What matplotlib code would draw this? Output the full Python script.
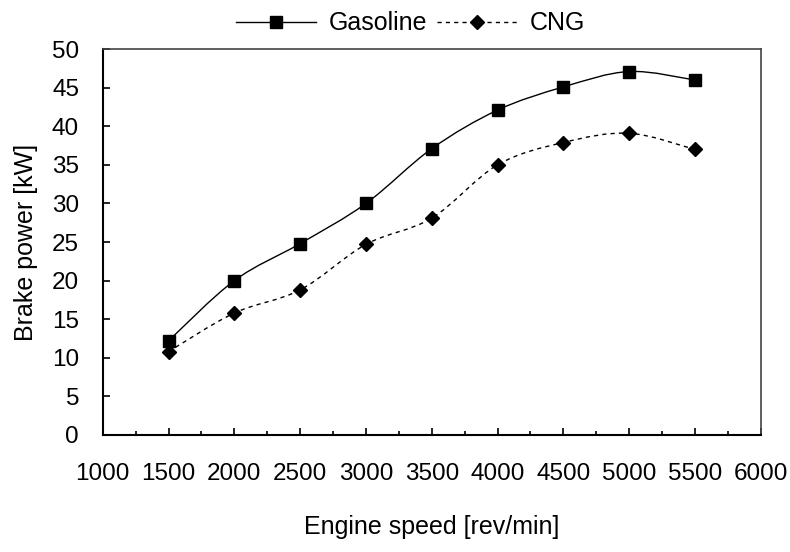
import matplotlib
matplotlib.use("Agg")
from matplotlib import pyplot as plt
from matplotlib.path import Path
from matplotlib.patches import PathPatch
from matplotlib.ticker import MultipleLocator
from matplotlib.lines import Line2D

# data
engine_speed = [1500, 2000, 2500, 3000, 3500, 4000, 4500, 5000, 5500]
gasoline = [12.2, 20.0, 24.8, 30.0, 37.1, 42.1, 45.1, 47.1, 46.0]
cng = [10.8, 15.8, 18.8, 24.7, 28.1, 35.0, 37.9, 39.1, 37.0]

plt.rcParams['font.family'] = ['Liberation Sans', 'DejaVu Sans']


def smooth_path(xs, ys):
    # Excel-like smoothed line: cubic bezier through each point
    pts = list(zip(xs, ys))
    n = len(pts)
    verts = [pts[0]]
    codes = [Path.MOVETO]
    for i in range(n - 1):
        p0 = pts[i - 1] if i > 0 else pts[i]
        p1 = pts[i]
        p2 = pts[i + 1]
        p3 = pts[i + 2] if i + 2 < n else pts[i + 1]
        c1 = (p1[0] + (p2[0] - p0[0]) / 6, p1[1] + (p2[1] - p0[1]) / 6)
        c2 = (p2[0] - (p3[0] - p1[0]) / 6, p2[1] - (p3[1] - p1[1]) / 6)
        verts += [c1, c2, p2]
        codes += [Path.CURVE4] * 3
    return Path(verts, codes)


fig = plt.figure(figsize=(7.9, 5.52), dpi=100)
ax = fig.add_axes([0.130, 0.212, 0.833, 0.699])

ax.add_patch(PathPatch(smooth_path(engine_speed, gasoline), fill=False,
                       edgecolor='black', lw=1.0))
ax.add_patch(PathPatch(smooth_path(engine_speed, cng), fill=False,
                       edgecolor='black', lw=1.0, linestyle=(0, (3, 3))))
ax.plot(engine_speed, gasoline, ls='none', marker='s', ms=8.5, color='black')
ax.plot(engine_speed, cng, ls='none', marker='D', ms=7, color='black')

ax.set_xlim(1000, 6000)
ax.set_ylim(0, 50)
ax.xaxis.set_major_locator(MultipleLocator(500))
ax.xaxis.set_minor_locator(MultipleLocator(250))
ax.yaxis.set_major_locator(MultipleLocator(5))
ax.tick_params(axis='x', which='major', direction='in', length=5, width=1.2,
               pad=20, labelsize=17.5, top=False)
ax.tick_params(axis='x', which='minor', direction='in', length=3, width=1.2, top=False)
ax.tick_params(axis='y', direction='in', length=5, width=1.2, pad=17,
               labelsize=17.5, right=False)
for s in ['left', 'bottom']:
    ax.spines[s].set_color('black')
    ax.spines[s].set_linewidth(1.5)
for s in ['top', 'right']:
    ax.spines[s].set_color('#444444')
    ax.spines[s].set_linewidth(1.2)

ax.set_ylabel('Brake power [kW]', fontsize=18, labelpad=10)
ax.set_xlabel('Engine speed [rev/min]', fontsize=18, labelpad=22)

handles = [
    Line2D([], [], color='black', lw=1.0, marker='s', ms=8.5),
    Line2D([], [], color='black', lw=1.0, ls=(0, (3, 3)), marker='D', ms=7),
]
fig.legend(handles, ['Gasoline', 'CNG'], loc='upper center',
           bbox_to_anchor=(0.52, 1.02), ncol=2, frameon=False, fontsize=18,
           handlelength=3.2, columnspacing=0.4, handletextpad=0.5)

fig.savefig('out.png', dpi=100)
